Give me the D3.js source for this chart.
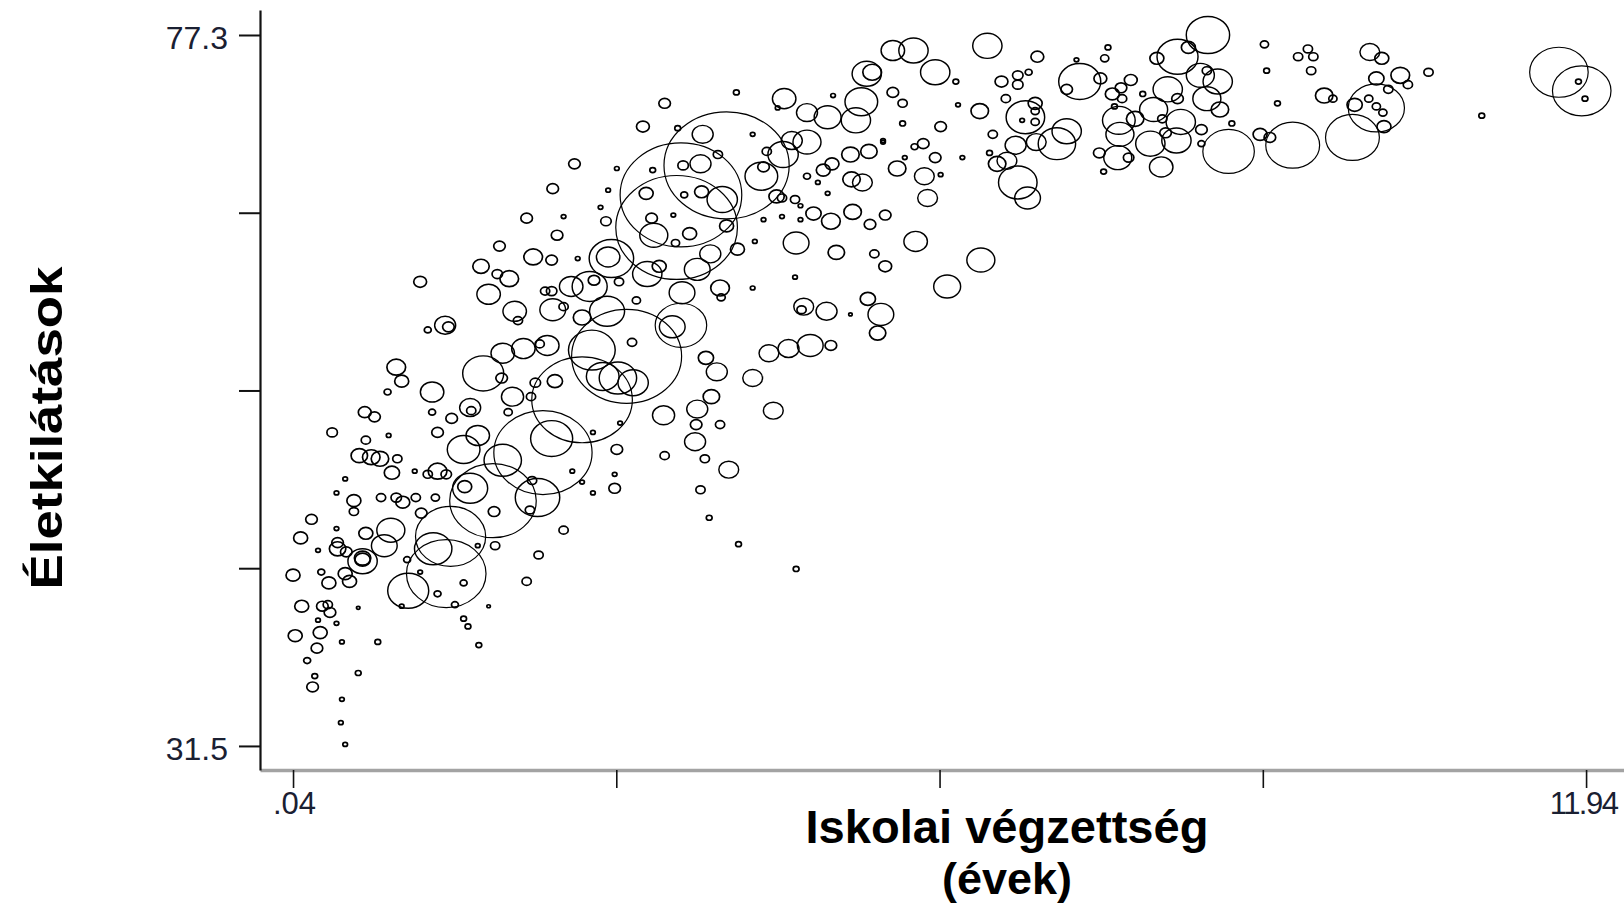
<!DOCTYPE html>
<html>
<head>
<meta charset="utf-8">
<script src="https://cdn.jsdelivr.net/npm/d3@7"></script>
<style>
  html, body { margin: 0; padding: 0; background: #fff; }
  svg { display: block; }
</style>
</head>
<body>
<svg id="chart" width="1624" height="908"></svg>
<script>
// Average years of schooling per country-year
const schooling = [
  8.46, 8.28, 8.18, 7.99, 8.39, 8.55, 8.45, 8.45, 8.57, 8.09,
  8.18, 7.96, 8.21, 8.17, 8.04, 8.07, 7.93, 8.03, 8.40, 8.65,
  8.94, 9.03, 8.68, 8.40, 8.98, 9.00, 9.10, 7.64, 7.65, 7.63,
  7.79, 7.46, 7.73, 7.50, 7.58, 7.66, 7.75, 7.67, 7.86, 7.60,
  7.28, 7.16, 7.47, 7.51, 7.54, 7.25, 6.89, 6.78, 6.87, 6.87,
  6.87, 6.75, 7.07, 7.16, 6.88, 6.69, 6.61, 6.52, 6.71, 6.80,
  6.48, 6.45, 6.56, 6.71, 6.71, 6.81, 6.60, 6.43, 6.36, 6.14,
  6.16, 6.00, 5.84, 5.76, 5.95, 6.20, 6.00, 5.60, 5.85, 5.88,
  5.49, 5.77, 6.37, 6.06, 5.49, 5.65, 5.47, 5.56, 5.75, 5.95,
  5.56, 5.65, 9.24, 9.79, 10.01, 9.81, 9.94, 10.01, 10.07, 10.08,
  10.01, 10.12, 10.23, 10.30, 9.95, 10.06, 9.53, 9.61, 10.49, 10.98,
  11.69, 11.90, 11.87, 11.93, 9.38, 9.29, 9.43, 9.41,
  5.32, 5.37, 5.27, 5.22, 5.01, 4.56, 4.50, 4.77, 4.96, 4.12,
  4.92, 5.00, 5.17, 5.18, 5.28, 5.34,
  5.47, 5.67, 4.77, 4.87, 4.96, 4.66, 4.83, 4.99, 5.19, 5.35,
  4.67, 5.04, 5.39,
  4.29, 4.27, 4.66, 4.74, 4.72, 4.95, 5.33, 5.45, 5.42, 5.17,
  4.42, 4.60, 4.80, 4.99, 3.84, 3.94, 4.27, 3.89, 3.76, 3.45,
  4.46, 3.75, 3.97, 3.74, 3.46, 3.83, 4.05, 3.79, 3.87, 4.14,
  4.67, 3.61, 3.53, 4.03, 3.61, 3.57, 3.46, 3.26, 3.81, 3.79,
  3.63, 3.95, 3.29, 3.80, 3.99, 4.35, 4.37, 4.40, 4.55, 4.63,
  4.77, 4.49, 3.69, 3.56, 3.88, 3.76, 4.13, 4.03, 3.36, 3.34,
  2.97, 2.94, 2.92, 3.30, 3.41, 2.60, 2.77, 2.81, 2.36, 2.43,
  2.53, 2.70, 2.93, 3.20, 3.04, 3.62, 3.97, 3.98, 2.79, 2.89,
  3.03, 3.17, 3.16, 3.11, 2.70, 3.02, 2.94, 2.87, 3.54, 3.35,
  3.64, 4.27, 3.58,
  4.54, 4.71, 4.37, 4.54, 4.71,
  2.63, 2.43, 2.19, 2.53, 2.47, 1.94, 2.25, 2.42, 2.66, 1.77,
  1.92, 2.03, 1.21, 1.84, 2.42,
  2.08, 2.11,
  1.44, 1.47, 1.28, 0.99, 1.04, 0.91, 0.70, 0.79, 1.32, 1.32,
  1.79, 1.96, 1.97, 2.16, 2.38, 2.31, 2.27, 2.23, 2.45, 2.06,
  2.02, 1.67, 1.68, 1.50, 1.37, 1.74, 1.61, 1.37, 1.45, 1.28,
  1.16, 0.95, 0.76, 0.65, 0.84, 1.00, 0.71, 0.40, 0.92, 2.34,
  1.88, 1.45, 1.49, 2.42, 2.29, 1.97, 1.67, 1.62, 1.10, 3.02,
  3.00,
  2.80, 3.00, 2.61, 2.70, 3.05, 2.80, 2.24, 2.22, 1.89, 1.90,
  1.74, 2.53, 2.30, 2.19, 1.61, 1.37,
  0.11, 0.21, 0.27, 0.44, 0.45, 0.53, 0.52, 0.44, 0.60, 0.60,
  0.85, 0.99, 1.05, 1.17, 1.22, 1.35,
  0.94, 0.88, 0.71, 0.68, 0.56, 0.52, 0.37, 0.04, 0.12, 0.06,
  0.29, 0.26, 0.22, 0.24, 0.17, 0.31, 0.38, 0.36,
  0.44, 0.27, 0.30, 0.45, 0.68, 0.68, 0.49, 0.82, 0.64, 0.49,
  0.48, 0.52, 0.64, 1.09, 1.21, 1.04, 1.53, 1.61, 1.65, 1.75,
  1.84, 1.33
];

// Life expectancy at birth (years), same order
const lifeExp = [
  77.3, 76.5, 75.9, 75.8, 74.7, 74.3, 75.0, 73.2, 72.5, 73.8,
  73.2, 72.5, 71.7, 70.5, 71.9, 71.0, 70.3, 68.8, 71.2, 69.8,
  70.9, 70.7, 71.6, 70.3, 76.7, 75.0, 72.9, 71.8, 70.9, 69.4,
  71.9, 69.7, 69.4, 68.5, 73.5, 73.9, 74.4, 73.2, 73.5, 72.7,
  74.3, 73.8, 74.5, 75.8, 76.5, 75.7, 75.9, 72.0, 72.9, 72.4,
  71.7, 71.8, 70.3, 71.1, 70.4, 70.2, 69.2, 69.0, 67.8, 66.8,
  70.9, 69.7, 74.3, 74.7, 74.1, 74.9, 73.2, 76.6, 72.4, 74.3,
  72.8, 71.4, 70.3, 70.1, 69.4, 69.4, 68.3, 68.7, 68.2, 66.8,
  65.7, 64.0, 62.8, 61.1, 62.4, 71.6, 70.5, 76.3, 76.3, 74.9,
  73.6, 72.9, 70.2, 70.7, 72.6, 72.8, 73.2, 72.7, 72.3, 71.4,
  74.5, 73.8, 74.7, 74.1, 76.2, 75.8, 73.4, 73.2, 74.9, 72.1,
  74.9, 73.7, 74.3, 73.2, 76.4, 75.9, 75.9, 75.0,
  74.8, 74.9, 73.0, 71.8, 73.4, 73.2, 72.6, 72.3, 72.0, 73.6,
  68.6, 69.0, 69.6, 68.0, 67.8, 69.8,
  70.4, 69.4, 68.2, 67.8, 67.1, 66.7, 65.8, 65.3, 65.9, 65.1,
  63.9, 63.3, 63.2,
  64.0, 61.0, 61.7, 59.8, 59.6, 59.5, 60.3, 59.3, 58.1, 59.3,
  56.8, 57.1, 57.3, 57.3, 56.5, 55.6, 55.2, 54.0, 53.2, 52.8,
  53.1, 52.2, 52.2, 51.1, 50.2, 50.0, 49.3, 48.0, 46.2, 44.5,
  42.9, 58.6, 58.5, 68.9, 67.0, 64.9, 72.9, 71.4, 70.9, 69.0,
  68.9, 69.6, 67.1, 67.2, 66.7, 68.2, 68.8, 69.8, 69.6, 70.5,
  70.4, 66.9, 64.5, 63.9, 63.2, 62.2, 63.5, 65.0, 64.4, 65.5,
  62.9, 63.0, 65.3, 61.9, 62.4, 61.1, 61.1, 61.5, 60.8, 59.6,
  59.8, 59.1, 59.5, 60.2, 61.4, 60.7, 61.0, 60.4, 57.0, 55.3,
  55.2, 54.9, 57.5, 56.6, 53.8, 68.7, 67.3, 66.2, 65.7, 68.6,
  67.0, 70.9, 71.3,
  66.8, 66.3, 65.4, 65.6, 65.4,
  69.0, 67.4, 65.5, 65.6, 64.4, 63.7, 63.0, 62.8, 62.9, 62.4,
  61.9, 61.6, 61.4, 60.6, 60.8,
  59.5, 58.9,
  58.6, 58.5, 58.3, 55.9, 55.0, 54.3, 53.0, 52.7, 54.3, 53.0,
  55.5, 55.2, 56.8, 57.1, 57.3, 57.4, 54.9, 54.0, 55.0, 54.0,
  53.0, 53.3, 53.1, 52.6, 51.7, 51.5, 50.6, 49.2, 49.0, 49.0,
  49.2, 49.1, 50.1, 50.2, 50.0, 50.0, 51.2, 51.7, 51.5, 50.4,
  47.3, 42.6, 45.0, 51.3, 47.5, 49.9, 48.1, 48.2, 41.5, 50.6,
  48.1,
  47.8, 49.0, 49.2, 48.5, 52.3, 51.7, 48.6, 46.7, 46.6, 44.4,
  44.4, 45.4, 43.8, 42.1, 42.0, 41.3,
  44.9, 46.1, 44.1, 45.5, 44.6, 44.0, 48.7, 47.8, 47.3, 46.6,
  47.5, 47.5, 47.2, 47.5, 46.5, 47.5,
  45.4, 44.4, 45.2, 43.6, 42.1, 42.6, 42.0, 42.5, 40.5, 38.6,
  38.8, 37.8, 35.3, 36.0, 37.0, 40.5, 40.1, 40.6,
  39.4, 39.6, 42.7, 44.2, 43.4, 43.5, 38.2, 38.2, 36.2, 34.5,
  33.0, 31.6, 40.4, 43.5, 42.7, 40.5, 40.6, 39.7, 39.2, 38.0,
  40.5, 44.2
];

// Population (millions), same order; sets the bubble area
const population = [
  153, 16, 137, 16, 64, 70, 7, 64, 25, 70,
  11, 64, 70, 70, 7, 11, 70, 45, 11, 216,
  16, 11, 2.8, 4, 5.5, 2.8, 2.8, 87, 64, 64,
  25, 11, 9, 2.8, 16, 11, 13.5, 7, 2.8, 2.8,
  144, 11, 13.5, 5.5, 2.8, 1.8, 13.5, 121, 16, 5.5,
  5.5, 1.8, 114, 70, 32, 36, 32, 25, 121, 54,
  7, 2.8, 13.5, 9, 9, 4, 7, 70, 25, 2.8,
  1.8, 11, 11, 4, 11, 1.8, 1.8, 25, 32, 32,
  11, 45, 64, 59, 13.5, 2.8, 1.8, 45, 70, 70,
  11, 7, 236, 236, 257, 19, 5.5, 5.5, 5.5, 16,
  19, 7, 28.5, 7, 32, 16, 25, 5.5, 7, 2.8,
  279, 279, 2.8, 2.8, 7, 7, 7, 7,
  70, 28.5, 87, 70, 1.8, 45, 1.8, 36, 59, 2.8,
  16, 16, 25, 25, 32, 22,
  1.8, 1.8, 4, 1.8, 1.8, 7, 19, 28.5, 25, 11,
  54, 22, 7,
  1.8, 1.8, 1.8, 32, 7, 36, 19, 54, 22, 1.0,
  32, 36, 54, 11, 19, 36, 32, 22, 36, 40,
  32, 11, 7, 36, 7, 7, 32, 7, 2.8, 2.8,
  2.8, 216, 54, 1276, 1205, 1205, 11, 13.5, 36, 36,
  9, 7, 16, 16, 75, 87, 11, 7, 75, 36,
  64, 19, 16, 5.5, 36, 54, 16, 16, 64, 11,
  161, 45, 9, 70, 16, 45, 100, 11, 7, 54,
  7, 25, 100, 5.5, 7, 54, 28.5, 5.5, 178, 87,
  114, 75, 7, 985, 824, 1.8, 1.8, 1.8, 1.8, 2.8,
  4, 1.8, 2.8,
  7, 1.8, 1.8, 1.8, 1.8,
  11, 11, 11, 1.8, 11, 11, 28.5, 11, 1.8, 22,
  9, 28.5, 13.5, 45, 9,
  45, 7,
  36, 11, 4, 28.5, 16, 4, 13.5, 11, 45, 4,
  137, 11, 45, 45, 45, 7, 9, 7, 19, 40,
  5.5, 36, 7, 11, 11, 45, 87, 28.5, 9, 7,
  1.8, 19, 25, 22, 25, 7, 7, 9, 1.8, 786,
  610, 515, 401, 144, 161, 114, 100, 16, 137, 11,
  11,
  1.8, 1.8, 1.8, 1.8, 1.8, 1.8, 7, 7, 11, 7,
  1.8, 7, 7, 7, 4, 4,
  16, 11, 1.8, 1.8, 11, 11, 1.8, 1.8, 16, 7,
  7, 9, 16, 7, 11, 5.5,
  64, 54, 16, 22, 16, 16, 16, 16, 16, 16,
  16, 11, 11, 2.8, 4, 11, 11, 7,
  1.8, 1.8, 4, 22, 70, 19, 1.8, 2.8, 2.8, 1.8,
  1.8, 1.8, 1.0, 4, 1.8, 1.8, 4, 2.8, 2.8, 2.8,
  1.0, 114
];

const xTickValues = [0.04, 3.015, 5.99, 8.965, 11.94];
const xTickLabels = [".04", "", "", "", "11.94"];
const yTickValues = [31.5, 42.95, 54.4, 65.85, 77.3];
const yTickLabels = ["31.5", "", "", "", "77.3"];
const xTitleLines = ["Iskolai végzettség", "(évek)"];
const yTitle = "Életkilátások";

const FONT = "'Liberation Sans', Arial, Helvetica, sans-serif";
const LABEL_COLOR = "#1a2032";

const svg = d3.select("#chart");
svg.append("rect").attr("width", 1624).attr("height", 908).attr("fill", "#fff");

// Scales: the plotted frame runs a little past the outer tick values
const x = d3.scaleLinear().domain([-0.264, 12.289]).range([260, 1624]);
const y = d3.scaleLinear().domain([29.95, 78.91]).range([770, 10]);
const r = d3.scaleSqrt().domain([0, 1300]).range([0, 54]);
const STRETCH = 1.17; // bubbles are drawn slightly wider than tall

const n = Math.min(schooling.length, lifeExp.length, population.length);
const points = d3.range(n).map(i => ({ s: schooling[i], l: lifeExp[i], p: population[i] }))
  .sort((a, b) => b.p - a.p);

// Bubbles: thin outline for the big ones, a heavier ring for the small ones
svg.append("g")
  .selectAll("ellipse")
  .data(points)
  .join("ellipse")
  .attr("cx", d => x(d.s))
  .attr("cy", d => y(d.l))
  .attr("rx", d => r(d.p) * STRETCH)
  .attr("ry", d => r(d.p))
  .attr("fill", "none")
  .attr("stroke", "#000")
  .attr("stroke-width", d => r(d.p) > 20 ? 1.2 : (r(d.p) > 8 ? 1.45 : 1.7));

// X axis
const xAxisG = svg.append("g")
  .attr("transform", "translate(0,770)")
  .call(d3.axisBottom(x)
    .tickValues(xTickValues)
    .tickFormat((d, i) => xTickLabels[i])
    .tickSize(18)
    .tickPadding(4)
    .tickSizeOuter(0));
xAxisG.select(".domain").attr("stroke", "#a3a3a3").attr("stroke-width", 3.5);
xAxisG.selectAll(".tick line").attr("stroke", "#111").attr("stroke-width", 1.6);
xAxisG.selectAll(".tick text")
  .attr("font-family", FONT)
  .attr("font-size", 31)
  .attr("fill", LABEL_COLOR)
  .attr("letter-spacing", (d, i) => i === 4 ? -1.5 : 0)
  .attr("dx", (d, i) => i === 0 ? 1 : (i === 4 ? -3 : 0));

// Y axis
const yAxisG = svg.append("g")
  .attr("transform", "translate(260,0)")
  .call(d3.axisLeft(y)
    .tickValues(yTickValues)
    .tickFormat((d, i) => yTickLabels[i])
    .tickSize(21)
    .tickPadding(11)
    .tickSizeOuter(0));
yAxisG.select(".domain").attr("stroke", "#111").attr("stroke-width", 2.2);
yAxisG.selectAll(".tick line").attr("stroke", "#111").attr("stroke-width", 2);
yAxisG.selectAll(".tick text")
  .attr("font-family", FONT)
  .attr("font-size", 32)
  .attr("fill", LABEL_COLOR)
  .attr("dy", "0.42em");

// Axis titles
svg.append("text")
  .attr("x", 1007).attr("y", 843)
  .attr("text-anchor", "middle")
  .attr("font-family", FONT).attr("font-weight", "bold").attr("font-size", 46)
  .attr("fill", "#000")
  .attr("textLength", 403).attr("lengthAdjust", "spacingAndGlyphs")
  .text(xTitleLines[0]);
svg.append("text")
  .attr("x", 1007).attr("y", 894)
  .attr("text-anchor", "middle")
  .attr("font-family", FONT).attr("font-weight", "bold").attr("font-size", 45)
  .attr("fill", "#000")
  .text(xTitleLines[1]);
svg.append("text")
  .attr("transform", "translate(62,428) rotate(-90)")
  .attr("text-anchor", "middle")
  .attr("font-family", FONT).attr("font-weight", "bold").attr("font-size", 45)
  .attr("fill", "#000")
  .attr("textLength", 323).attr("lengthAdjust", "spacingAndGlyphs")
  .text(yTitle);
</script>
</body>
</html>
